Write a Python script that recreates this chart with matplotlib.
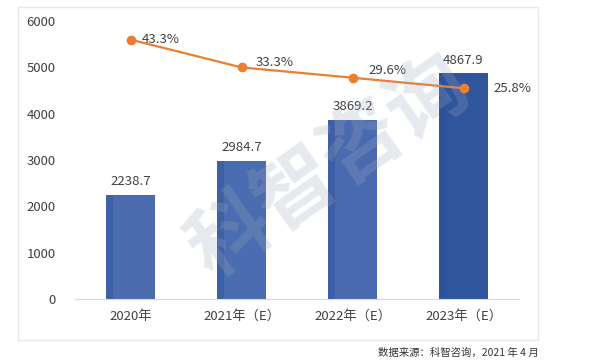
import matplotlib.pyplot as plt
import matplotlib.patches as mpatches

plt.rcParams['font.family'] = ['Noto Sans CJK SC', 'DejaVu Sans']

# data
years = ['2020年', '2021年（E）', '2022年（E）', '2023年（E）']
market_size = [2238.7, 2984.7, 3869.2, 4867.9]
growth_rate = [43.3, 33.3, 29.6, 25.8]
bar_colors = ['#4a6cae', '#4a6cb0', '#4a6ab0', '#2f559c']

fig = plt.figure(figsize=(6, 3.64), dpi=100)
ax = fig.add_axes([0.125, 0.1786, 0.74, 0.7637])

# light outer frame of the chart area
fig.patches.append(mpatches.Rectangle((0.03, 0.066), 0.867, 0.915, transform=fig.transFigure,
                                      fill=False, edgecolor='#e8e8e8', linewidth=1))

x = range(len(years))
ax.bar(x, market_size, width=0.45, color=bar_colors, zorder=2)
# darker strip on the left side of each bar
ax.bar([i - 0.19 for i in x], market_size, width=0.07, color='#2d4f95', alpha=0.4, zorder=2)

for i, v in enumerate(market_size):
    ax.text(i, v + 150, f'{v:.1f}', ha='center', va='bottom', fontsize=9.5, color='#404040')

ax.set_xlim(-0.5, 3.5)
ax.set_ylim(0, 6000)
ax.set_yticks(range(0, 6001, 1000))
ax.set_xticks(list(x))
ax.set_xticklabels(years, fontsize=9.5, color='#404040')
ax.tick_params(axis='y', labelsize=9.5, labelcolor='#404040', length=0, pad=14)
ax.tick_params(axis='x', length=0, pad=8)
for s in ['top', 'right', 'left']:
    ax.spines[s].set_visible(False)
ax.spines['bottom'].set_color('#d9d9d9')

# growth rate line on hidden secondary axis
ax2 = ax.twinx()
ax2.plot(list(x), growth_rate, color='#ed7d31', linewidth=1.6, marker='o', markersize=6, zorder=3)
ax2.set_ylim(-50, 50)
ax2.axis('off')
offsets = [(0.1, 0.0), (0.13, 1.6), (0.14, 2.7), (0.27, 0.0)]
for i, r in enumerate(growth_rate):
    dx, dy = offsets[i]
    ax2.text(i + dx, r + dy, f'{r:.1f}%', ha='left', va='center', fontsize=9.5, color='#404040')

# watermark
fig.text(0.55, 0.54, '科智咨询', fontsize=58, fontweight='bold', rotation=35,
         color='#9aa6bd', alpha=0.25, ha='center', va='center')

fig.text(0.63, 0.03, '数据来源：科智咨询，2021 年 4 月', fontsize=7.5, color='#333333',
         ha='left', va='center')

fig.savefig('out.png', dpi=100)
